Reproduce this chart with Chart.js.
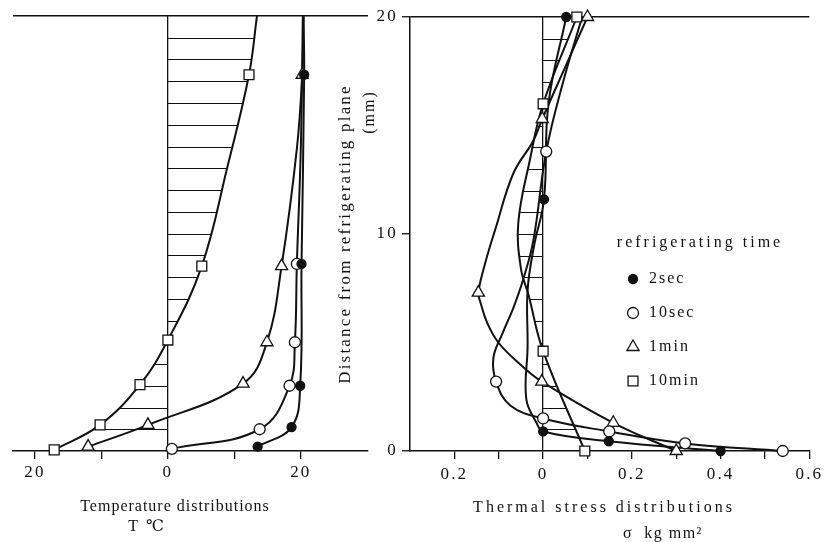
<!DOCTYPE html>
<html>
<head>
<meta charset="utf-8">
<script src="https://cdn.jsdelivr.net/npm/chart.js@4.4.1/dist/chart.umd.min.js"></script>
<style>
  html, body { margin: 0; padding: 0; background: #fff; }
  #wrap { position: relative; width: 825px; height: 542px; overflow: hidden; }
  #tempBox { position: absolute; left: 0; top: 0; width: 400px; height: 542px; }
  #stressBox { position: absolute; left: 330px; top: 0; width: 495px; height: 542px; }
</style>
</head>
<body>
<div id="wrap">
  <div id="tempBox"><canvas id="tempChart"></canvas></div>
  <div id="stressBox"><canvas id="stressChart"></canvas></div>
</div>
<script>
// ---- Data block ----
// distance from refrigerating plane (mm) and the measured value at that depth
const seriesNames = ['2sec', '10sec', '1min', '10min'];

// Temperature (deg C), measured points
const temp2secMm  = [0.2, 1.1, 3.0, 8.6, 17.3];
const temp2secT   = [13.5, 18.6, 19.9, 20.1, 20.5];
const temp10secMm = [0.1, 1.0, 3.0, 5.0, 8.6];
const temp10secT  = [0.6, 13.8, 18.3, 19.1, 19.4];
const temp1minMm  = [0.2, 1.2, 3.1, 5.0, 8.5, 17.3];
const temp1minT   = [-12.0, -3.0, 11.3, 14.9, 17.1, 20.2];
const temp10minMm = [0.05, 1.2, 3.05, 5.1, 8.5, 17.3];
const temp10minT  = [-17.1, -10.2, -4.2, 0, 5.1, 12.2];
// extra points (no marker)
const temp2secGuideMm  = [20];
const temp2secGuideT   = [20.4];
const temp10secGuideMm = [14, 20];
const temp10secGuideT  = [20.0, 20.3];
const temp1minGuideMm  = [13.9, 20];
const temp1minGuideT   = [19.4, 20.4];
const temp10minGuideMm = [13.0, 20];
const temp10minGuideT  = [8.9, 13.4];

// Thermal stress (kg/mm2, compression negative), measured points
const stress2secMm  = [0, 0.45, 0.9, 11.6, 20];
const stress2secS   = [0.40, 0.148, 0, 0.002, 0.052];
const stress10secMm = [0, 0.35, 0.9, 1.5, 3.2, 13.8];
const stress10secS  = [0.54, 0.32, 0.149, 0, -0.106, 0.007];
const stress1minMm  = [0, 1.3, 3.2, 7.3, 15.3, 20];
const stress1minS   = [0.30, 0.158, -0.003, -0.146, -0.002, 0.10];
const stress10minMm = [0, 4.6, 16.0, 20];
const stress10minS  = [0.094, 0, 0, 0.076];
// extra points (no marker)
const stress2secGuideMm  = [1.3, 2.4, 4.8, 7.4, 9.5, 16.0];
const stress2secGuideS   = [-0.015, -0.038, -0.035, -0.035, -0.02, 0.012];
const stress10secGuideMm = [2.1, 4.3, 5.4, 6.6, 7.9, 9.7, 17.0, 20];
const stress10secGuideS  = [-0.074, -0.112, -0.092, -0.067, -0.045, -0.022, 0.045, 0.088];
const stress1minGuideMm  = [4.0, 5.0, 5.9, 6.9, 8.7, 10.2, 12.8, 14.3, 17.7];
const stress1minGuideS   = [-0.052, -0.101, -0.126, -0.142, -0.13, -0.108, -0.067, -0.022, 0.05];
const stress10minGuideMm = [7.2, 8.4, 10.5, 13.4];
const stress10minGuideS  = [-0.033, -0.05, -0.056, -0.03];

// Tick values and labels
const distanceTicks = [0, 10, 20];
const tempTickValues = [-20, -10, 0, 10, 20];
const tempTickLabels = ['20', '', '0', '', '20'];
const stressTickValues = [-0.2, -0.1, 0, 0.1, 0.2, 0.3, 0.4, 0.5, 0.6];
const stressTickLabels = ['0.2', '', '0', '', '0.2', '', '0.4', '', '0.6'];

// ---- Helpers ----
function curve(mm, v, gMm, gV) {
    const pts = mm.map((y, i) => ({x: v[i], y: y}))
        .concat(gMm.map((y, i) => ({x: gV[i], y: y})));
    return pts.sort((a, b) => a.y - b.y);
}
function marks(mm, v) {
    return mm.map((y, i) => ({x: v[i], y: y}));
}

// marker look per series, same order as seriesNames
const markerStyles = [
    {pointStyle: 'circle', radius: 4.5, fill: '#111'},
    {pointStyle: 'circle', radius: 5.5, fill: '#fff'},
    {pointStyle: 'triangle', radius: 7, fill: '#fff'},
    {pointStyle: 'rect', radius: 7, fill: '#fff'}
];

function buildDatasets(lines, points) {
    const sets = [];
    lines.forEach((data, i) => {
        sets.push({
            label: seriesNames[i] + ' curve',
            data: data,
            showLine: true,
            tension: 0.4,
            borderColor: '#111',
            borderWidth: 2,
            pointRadius: 0,
            clip: false,
            order: 2
        });
    });
    points.forEach((data, i) => {
        const st = markerStyles[i];
        sets.push({
            label: seriesNames[i],
            data: data,
            showLine: false,
            pointStyle: st.pointStyle,
            pointRadius: st.radius,
            pointBackgroundColor: st.fill,
            pointBorderColor: '#111',
            pointBorderWidth: 1.3,
            clip: false,
            order: 1
        });
    });
    return sets;
}

const INK = '#111';
const NONE = 'rgba(0,0,0,0)';
const SERIF = '"Liberation Serif", "DejaVu Serif", serif';
Chart.defaults.font.family = SERIF;
Chart.defaults.color = INK;

// Wide letter spacing like the printed figure
const spacingPlugin = {
    id: 'spacing',
    beforeDraw(chart) {
        chart.ctx.letterSpacing = '2.2px';
    }
};

// Horizontal hatching between the 10min curve and the zero line
const hatchPlugin = {
    id: 'hatch',
    beforeDatasetsDraw(chart, args, opts) {
        const meta = chart.getDatasetMeta(opts.datasetIndex);
        const line = meta.dataset;
        const pts = meta.data;
        const x0 = chart.scales.x.getPixelForValue(0);
        const area = chart.chartArea;
        const ctx = chart.ctx;
        ctx.save();
        ctx.beginPath();
        if (line && typeof line.path === 'function') {
            if (typeof line.updateControlPoints === 'function') line.updateControlPoints(area);
            line.path(ctx);
        } else {
            pts.forEach((p, i) => i ? ctx.lineTo(p.x, p.y) : ctx.moveTo(p.x, p.y));
        }
        ctx.lineTo(x0, pts[pts.length - 1].y);
        ctx.lineTo(x0, pts[0].y);
        ctx.closePath();
        ctx.clip();
        ctx.strokeStyle = INK;
        ctx.lineWidth = 1;
        for (let mm = 1; mm < 20; mm++) {
            const y = Math.round(chart.scales.y.getPixelForValue(mm)) + 0.5;
            ctx.beginPath();
            ctx.moveTo(area.left, y);
            ctx.lineTo(area.right, y);
            ctx.stroke();
        }
        ctx.restore();
    }
};

// Free captions (axis titles, units)
const captionPlugin = {
    id: 'captions',
    afterDraw(chart, args, opts) {
        const ctx = chart.ctx;
        ctx.save();
        ctx.fillStyle = INK;
        ctx.textAlign = 'center';
        ctx.textBaseline = 'middle';
        (opts.items || []).forEach(c => {
            ctx.font = (c.size || 16) + 'px ' + SERIF;
            ctx.letterSpacing = (c.spacing || 2) + 'px';
            ctx.save();
            ctx.translate(c.x, c.y);
            if (c.rotate) ctx.rotate(c.rotate);
            ctx.fillText(c.text, 0, 0);
            ctx.restore();
        });
        ctx.restore();
    }
};

// Legend block drawn inside the stress panel
const timeLegendPlugin = {
    id: 'timeLegend',
    afterDraw(chart, args, opts) {
        const ctx = chart.ctx;
        ctx.save();
        ctx.fillStyle = INK;
        ctx.font = '16px ' + SERIF;
        ctx.textBaseline = 'middle';
        ctx.textAlign = 'center';
        ctx.letterSpacing = '3px';
        ctx.fillText(opts.title, opts.titleX, opts.titleY);
        ctx.textAlign = 'left';
        ctx.letterSpacing = '2px';
        seriesNames.forEach((name, i) => {
            const st = markerStyles[i];
            const y = opts.top + i * opts.step;
            ctx.fillStyle = st.fill;
            ctx.strokeStyle = INK;
            ctx.lineWidth = 1.3;
            Chart.helpers.drawPoint(ctx, {pointStyle: st.pointStyle, radius: st.radius, rotation: 0, borderWidth: 1.3}, opts.markX, y);
            ctx.fillStyle = INK;
            ctx.fillText(name, opts.textX, y);
        });
        ctx.restore();
    }
};

// ---- Temperature panel ----
const tempConfig = {
    type: 'scatter',
    data: {
        datasets: buildDatasets(
            [curve(temp2secMm, temp2secT, temp2secGuideMm, temp2secGuideT),
             curve(temp10secMm, temp10secT, temp10secGuideMm, temp10secGuideT),
             curve(temp1minMm, temp1minT, temp1minGuideMm, temp1minGuideT),
             curve(temp10minMm, temp10minT, temp10minGuideMm, temp10minGuideT)],
            [marks(temp2secMm, temp2secT), marks(temp10secMm, temp10secT),
             marks(temp1minMm, temp1minT), marks(temp10minMm, temp10minT)])
    },
    options: {
        animation: false,
        responsive: true,
        maintainAspectRatio: false,
        layout: {padding: {left: 13, right: 32, top: 16, bottom: 0}},
        plugins: {
            legend: {display: false},
            tooltip: {enabled: false},
            hatch: {datasetIndex: 3},
            captions: {items: [
                {text: 'Temperature distributions', x: 175, y: 507, size: 16, spacing: 1},
                {text: 'T ℃', x: 147, y: 527, size: 16, spacing: 2}
            ]}
        },
        scales: {
            x: {
                type: 'linear',
                min: -23.3,
                max: 30.1,
                afterBuildTicks: s => { s.ticks = tempTickValues.map(v => ({value: v})); },
                afterFit: s => { s.height = 91; },
                border: {color: INK, width: 1.5},
                grid: {
                    color: c => (c.tick && c.tick.value === 0) ? INK : NONE,
                    lineWidth: 1.3,
                    tickColor: INK,
                    tickLength: 8,
                    tickWidth: 1.3
                },
                ticks: {
                    autoSkip: false,
                    maxRotation: 0,
                    padding: 3,
                    font: {size: 17},
                    callback: (v, i) => tempTickLabels[i]
                }
            },
            y: {
                type: 'linear',
                min: 0,
                max: 20,
                afterBuildTicks: s => { s.ticks = distanceTicks.map(v => ({value: v})); },
                afterFit: s => { s.width = 0; },
                border: {display: false},
                grid: {
                    color: c => (c.tick && c.tick.value === 20) ? INK : NONE,
                    lineWidth: 1.5,
                    drawTicks: false
                },
                ticks: {display: false}
            }
        }
    },
    plugins: [spacingPlugin, hatchPlugin, captionPlugin]
};

// ---- Stress panel ----
const stressConfig = {
    type: 'scatter',
    data: {
        datasets: buildDatasets(
            [curve(stress2secMm, stress2secS, stress2secGuideMm, stress2secGuideS),
             curve(stress10secMm, stress10secS, stress10secGuideMm, stress10secGuideS),
             curve(stress1minMm, stress1minS, stress1minGuideMm, stress1minGuideS),
             curve(stress10minMm, stress10minS, stress10minGuideMm, stress10minGuideS)],
            [marks(stress2secMm, stress2secS), marks(stress10secMm, stress10secS),
             marks(stress1minMm, stress1minS), marks(stress10minMm, stress10minS)])
    },
    options: {
        animation: false,
        responsive: true,
        maintainAspectRatio: false,
        layout: {padding: {left: 0, right: 15, top: 17, bottom: 0}},
        plugins: {
            legend: {display: false},
            tooltip: {enabled: false},
            hatch: {datasetIndex: 3},
            captions: {items: [
                {text: 'Thermal stress distributions', x: 274, y: 508, size: 16, spacing: 3},
                {text: 'σ  kg mm²', x: 333, y: 534, size: 16, spacing: 1.5},
                {text: '(mm)', x: 40, y: 112, size: 16, spacing: 2, rotate: -Math.PI / 2}
            ]},
            timeLegend: {
                title: 'refrigerating time', titleX: 370, titleY: 243,
                markX: 303, textX: 319, top: 279, step: 34
            }
        },
        scales: {
            x: {
                type: 'linear',
                min: -0.3,
                max: 0.6,
                afterBuildTicks: s => { s.ticks = stressTickValues.map(v => ({value: v})); },
                afterFit: s => { s.height = 91; },
                border: {color: INK, width: 1.5},
                grid: {
                    color: c => (c.tick && c.tick.value === 0) ? INK : NONE,
                    lineWidth: 1.3,
                    tickColor: INK,
                    tickLength: 8,
                    tickWidth: 1.3
                },
                ticks: {
                    autoSkip: false,
                    maxRotation: 0,
                    padding: 5,
                    font: {size: 17},
                    callback: (v, i) => stressTickLabels[i]
                }
            },
            y: {
                type: 'linear',
                min: 0,
                max: 20,
                afterBuildTicks: s => { s.ticks = distanceTicks.map(v => ({value: v})); },
                afterFit: s => { s.width = 80; },
                border: {color: INK, width: 1.5},
                grid: {
                    color: c => (c.tick && c.tick.value === 20) ? INK : NONE,
                    lineWidth: 1.5,
                    tickColor: INK,
                    tickLength: 8,
                    tickWidth: 1.3
                },
                ticks: {
                    padding: 4,
                    font: {size: 17},
                    callback: (v, i) => String(distanceTicks[i])
                },
                title: {
                    display: true,
                    text: 'Distance from refrigerating plane',
                    font: {size: 17},
                    padding: {top: 5, bottom: 0}
                }
            }
        }
    },
    plugins: [spacingPlugin, hatchPlugin, captionPlugin, timeLegendPlugin]
};

// render / init block
const tempChart = new Chart(document.getElementById('tempChart'), tempConfig);
const stressChart = new Chart(document.getElementById('stressChart'), stressConfig);
</script>
</body>
</html>
